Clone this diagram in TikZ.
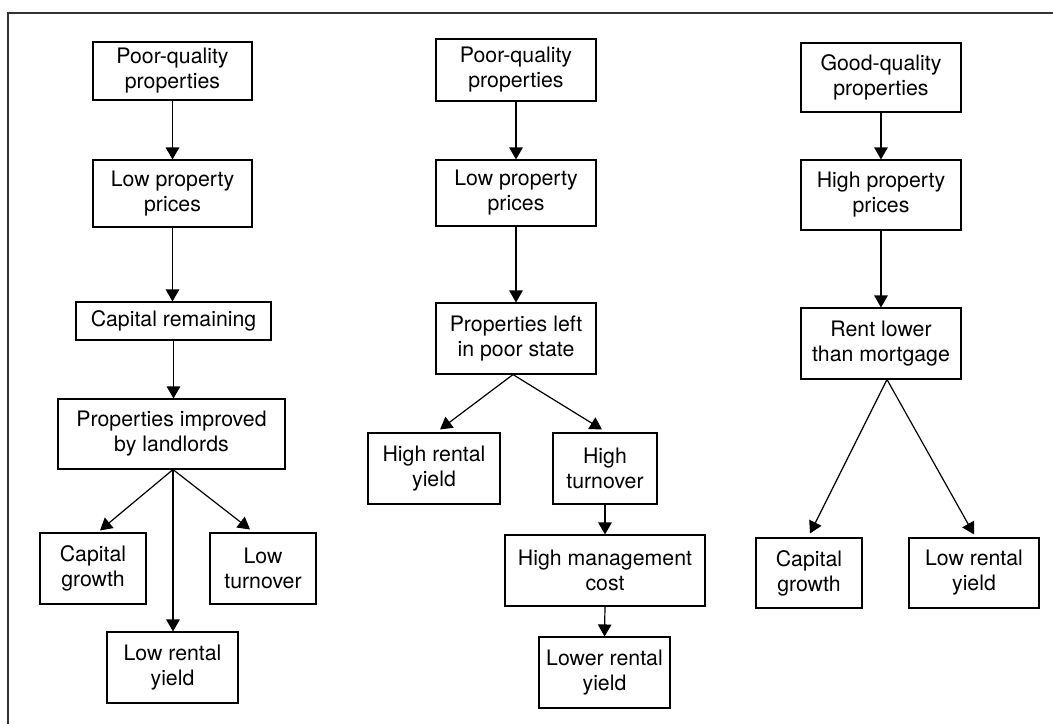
\documentclass[tikz,border=0pt]{standalone}
\usepackage{fontspec}
\setmainfont{TeX Gyre Heros}
\usetikzlibrary{arrows.meta,calc}
\begin{document}
\begin{tikzpicture}[x=1pt,y=-1pt,
  box/.style={draw, line width=1.1pt, align=center, inner sep=2pt,
    font=\fontsize{21.3}{25}\selectfont},
  arr/.style={line width=1.2pt, -{Triangle[width=13.5pt,length=12pt]}},
  frameline/.style={line width=1.8pt, draw=black!80}]
\useasboundingbox (0,0) rectangle (1053,724);
\draw[frameline] (1053,13) -- (8,13) -- (8,724);
% Left column
\node[box, minimum width=159pt, minimum height=58pt] (L1) at (172.5,71) {Poor-quality\\properties};
\node[box, minimum width=159pt, minimum height=67pt] (L2) at (172.5,193.5) {Low property\\prices};
\node[box, minimum width=195pt, minimum height=38pt] (L3) at (173.5,321) {Capital remaining};
\node[box, minimum width=227pt, minimum height=70pt] (L4) at (171.5,434) {Properties improved\\by landlords};
\node[box, minimum width=106pt, minimum height=71pt] (L5) at (93,568.5) {Capital\\growth};
\node[box, minimum width=106pt, minimum height=71pt] (L6) at (263,568.5) {Low\\turnover};
\node[box, minimum width=131pt, minimum height=71pt] (L7) at (172.5,667.5) {Low rental\\yield};
% Middle column
\node[box, minimum width=160pt, minimum height=62pt] (M1) at (516,70) {Poor-quality\\properties};
\node[box, minimum width=160pt, minimum height=66pt] (M2) at (516,193) {Low property\\prices};
\node[box, minimum width=160pt, minimum height=71pt] (M3) at (516,338.5) {Properties left\\in poor state};
\node[box, minimum width=132pt, minimum height=71pt] (M4) at (434,468.5) {High rental\\yield};
\node[box, minimum width=104pt, minimum height=71pt] (M5) at (605,468.5) {High\\turnover};
\node[box, minimum width=200pt, minimum height=71pt] (M6) at (605,570.5) {High management\\cost};
\node[box, minimum width=131pt, minimum height=71pt] (M7) at (604.5,672.5) {Lower rental\\yield};
% Right column
\node[box, minimum width=160pt, minimum height=69pt] (R1) at (881,77.5) {Good-quality\\properties};
\node[box, minimum width=160pt, minimum height=70pt] (R2) at (881,195) {High property\\prices};
\node[box, minimum width=160pt, minimum height=71pt] (R3) at (881,343.5) {Rent lower\\than mortgage};
\node[box, minimum width=106pt, minimum height=70pt] (R4) at (809,573) {Capital\\growth};
\node[box, minimum width=130pt, minimum height=70pt] (R5) at (974,573) {Low rental\\yield};
% fork points
\coordinate (L4f) at ([xshift=1.5pt]L4.south);
\coordinate (M3f) at ([xshift=-3pt]M3.south);
\coordinate (R3f) at ([xshift=6pt]R3.south);
% Left arrows
\draw[arr] (L1.south) -- (L1.south |- L2.north);
\draw[arr] (L2.south) -- (L2.south |- L3.north);
\draw[arr] (L3.south) -- (L3.south |- L4.north);
\draw[arr] (L4f) -- ([xshift=7pt,yshift=2pt]L5.north);
\draw[arr] (L4f) -- ([xshift=-13pt,yshift=3pt]L6.north);
\draw[arr] (L4f) -- (L4f |- L7.north);
% Middle arrows
\draw[arr] (M1.south) -- (M2.north);
\draw[arr] (M2.south) -- (M3.north);
\draw[arr] (M3f) -- ([xshift=6pt,yshift=3pt]M4.north);
\draw[arr] (M3f) -- ([xshift=-3pt,yshift=3pt]M5.north);
\draw[arr] (M5.south) -- (M6.north);
\draw[arr] (M6.south) -- (M7.north);
% Right arrows
\draw[arr] (R1.south) -- (R2.north);
\draw[arr] (R2.south) -- (R3.north);
\draw[arr] (R3f) -- ([xshift=1pt,yshift=4pt]R4.north);
\draw[arr] (R3f) -- ([yshift=3pt]R5.north);
\end{tikzpicture}
\end{document}
